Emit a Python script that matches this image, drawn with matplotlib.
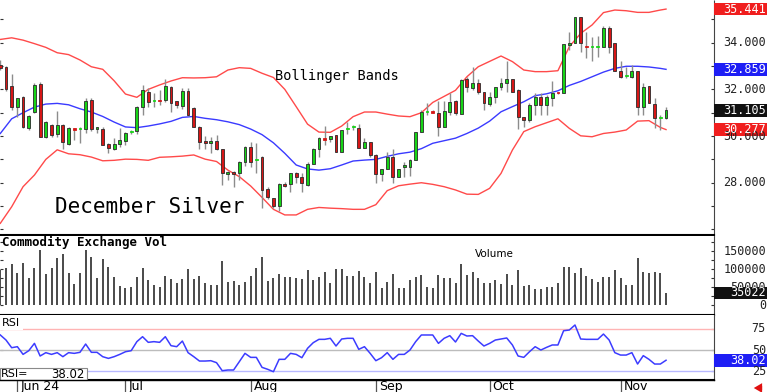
import numpy as np
import matplotlib.pyplot as plt
from matplotlib.patches import Rectangle

# figure size in pixels
W, H = 768, 392
MONO = "DejaVu Sans Mono"
SANS = "DejaVu Sans"

# =============================================================================
# DATA
# =============================================================================

opens = [33.04, 32.97, 32.14, 31.26, 31.66, 30.33, 31.04, 32.23, 29.94, 30.47,
         30.07, 30.49, 29.66, 30.32, 30.30, 30.29, 31.54, 30.29, 30.29, 29.66,
         29.44, 29.66, 29.80, 30.16, 30.23, 31.23, 31.89, 31.50, 31.56, 31.54,
         32.12, 31.50, 31.29, 31.93, 31.19, 30.40, 29.80, 29.72, 29.80, 29.43,
         28.37, 28.44, 28.40, 28.90, 29.54, 28.98, 29.09, 27.72, 27.33, 27.00,
         27.95, 27.93, 28.40, 28.23, 27.90, 28.80, 29.43, 29.90, 29.86, 30.04,
         29.33, 30.30, 30.37, 30.36, 29.50, 29.76, 29.19, 28.36, 28.57, 29.09,
         28.23, 28.66, 28.69, 28.97, 30.19, 31.04, 31.06, 31.00, 30.37, 31.04,
         31.50, 30.94, 32.43, 32.04, 32.29, 31.90, 31.37, 31.66, 32.09, 32.26,
         32.43, 31.97, 30.83, 30.69, 31.33, 31.69, 31.33, 31.61, 31.90, 31.83,
         33.90, 33.97, 35.09, 33.83, 33.80, 33.80, 33.83, 34.64, 33.97, 32.80,
         32.56, 32.54, 32.79, 31.26, 32.14, 31.37, 30.76, 30.76]

highs = [33.26, 33.00, 32.66, 31.62, 31.70, 30.90, 32.26, 32.33, 30.66, 30.52,
         31.07, 30.50, 30.37, 30.36, 30.40, 31.61, 31.61, 30.40, 30.40, 29.70,
         29.90, 30.33, 30.19, 30.26, 31.30, 32.19, 32.04, 31.83, 31.97, 32.43,
         32.14, 31.52, 32.04, 32.04, 31.23, 30.43, 30.00, 29.97, 30.04, 29.45,
         28.50, 28.50, 28.93, 29.57, 29.76, 29.70, 29.14, 27.83, 27.36, 28.00,
         28.04, 28.40, 28.44, 28.40, 28.90, 29.50, 29.97, 30.43, 30.00, 30.04,
         30.26, 30.60, 30.47, 30.50, 29.90, 29.76, 29.23, 28.57, 29.30, 29.43,
         28.60, 28.90, 29.00, 30.19, 31.10, 31.40, 31.10, 31.50, 31.50, 31.83,
         31.55, 32.45, 32.55, 32.97, 32.43, 31.90, 31.90, 32.09, 32.50, 33.20,
         32.43, 32.00, 30.83, 31.40, 31.83, 31.83, 31.76, 32.36, 31.90, 33.93,
         34.47, 35.09, 35.09, 34.47, 34.26, 34.29, 34.70, 34.70, 33.97, 33.20,
         32.97, 33.03, 32.79, 32.26, 32.14, 31.61, 30.90, 31.23]

lows = [32.83, 31.95, 31.12, 30.83, 30.33, 30.28, 31.00, 29.95, 29.90, 29.94,
        29.97, 29.43, 29.60, 29.83, 29.72, 30.14, 30.23, 30.12, 29.60, 29.29,
        29.40, 29.54, 29.60, 30.10, 30.10, 30.90, 31.26, 31.23, 31.33, 31.47,
        31.04, 31.19, 31.14, 30.87, 30.37, 29.43, 29.43, 29.26, 29.40, 27.90,
        28.10, 27.80, 28.10, 28.70, 28.69, 28.40, 26.90, 27.30, 26.90, 26.80,
        27.80, 27.60, 28.00, 27.60, 27.87, 28.80, 29.10, 29.60, 29.73, 29.33,
        29.33, 30.09, 30.26, 29.50, 29.50, 29.10, 28.00, 28.06, 28.57, 27.97,
        28.23, 28.26, 28.30, 28.97, 30.19, 30.90, 30.97, 30.00, 30.37, 30.90,
        30.90, 30.94, 31.90, 31.97, 31.80, 31.10, 31.30, 31.40, 31.97, 31.90,
        31.90, 30.30, 30.40, 30.60, 30.90, 30.90, 30.90, 31.29, 31.80, 31.83,
        33.69, 33.97, 33.60, 33.33, 33.23, 33.40, 33.83, 33.57, 32.80, 32.50,
        32.47, 32.47, 30.90, 30.90, 31.40, 30.33, 30.26, 30.72]

closes = [32.90, 32.00, 31.26, 31.61, 30.37, 30.86, 32.17, 29.97, 30.60, 30.04,
          30.46, 29.76, 30.33, 30.28, 30.36, 31.52, 30.29, 30.37, 29.62, 29.47,
          29.66, 29.83, 30.14, 30.22, 31.23, 31.97, 31.47, 31.55, 31.52, 32.14,
          31.43, 31.33, 31.93, 30.90, 30.40, 29.76, 29.72, 29.80, 29.43, 28.40,
          28.44, 28.37, 28.90, 29.54, 28.90, 29.02, 27.69, 27.40, 27.00, 27.94,
          27.86, 28.40, 28.26, 27.97, 28.80, 29.43, 29.90, 29.85, 30.00, 29.33,
          30.26, 30.36, 30.37, 29.50, 29.76, 29.19, 28.36, 28.57, 29.11, 28.23,
          28.60, 28.74, 28.97, 30.19, 31.04, 31.06, 31.00, 30.40, 31.07, 31.47,
          30.97, 32.40, 32.09, 32.29, 31.90, 31.40, 31.69, 32.09, 32.26, 32.43,
          31.90, 30.83, 30.69, 31.33, 31.69, 31.33, 31.66, 31.86, 31.85, 33.93,
          34.00, 35.09, 34.00, 33.80, 33.83, 33.83, 34.64, 33.83, 32.80, 32.54,
          32.60, 32.79, 31.26, 32.09, 31.40, 30.76, 30.80, 31.105]

volume = [98000, 103200, 115300, 91200, 118000, 75500, 103200, 154200, 86600, 103200,
          132900, 142100, 90300, 59700, 90300, 154200, 133800, 77300, 129200, 106900,
          78200, 54200, 47700, 52300, 78200, 104200, 70800, 56900, 52300, 81900,
          73600, 61600, 73600, 100500, 73600, 81900, 63400, 56900, 56900, 123600,
          64400, 68100, 56900, 66200, 81900, 105100, 134700, 68100, 77300, 86600,
          80100, 80100, 75500, 74500, 99500, 70800, 78200, 92100, 63400, 102300,
          101400, 82900, 82900, 95800, 78200, 61600, 92100, 49500, 64400, 86600,
          49500, 49500, 70800, 80100, 84700, 52300, 49500, 84700, 77300, 75500,
          61600, 114400, 84700, 92100, 75500, 61600, 63400, 69900, 58800, 86600,
          56900, 98600, 55100, 56900, 45800, 45800, 52300, 52300, 61600, 106000,
          106000, 89400, 103200, 82900, 72700, 66200, 78200, 78200, 99500, 75500,
          56900, 56900, 132900, 94000, 91200, 92100, 91200, 35022]

rsi = [67.6, 61.7, 52.7, 53.9, 44.9, 49.2, 57.8, 43.0, 46.9, 44.9,
       46.9, 42.2, 46.9, 46.1, 47.3, 57.0, 47.3, 47.3, 42.2, 40.2,
       42.2, 44.9, 48.0, 49.2, 59.8, 65.6, 59.0, 59.8, 59.0, 65.6,
       55.1, 53.9, 60.5, 46.9, 42.2, 37.1, 37.1, 37.5, 35.2, 25.8,
       26.6, 26.6, 36.3, 46.1, 41.4, 41.4, 29.7, 27.4, 24.6, 39.1,
       39.1, 46.1, 44.9, 41.0, 52.0, 58.6, 62.5, 62.5, 63.7, 54.7,
       62.9, 63.7, 63.7, 50.8, 53.9, 46.1, 37.5, 41.0, 46.9, 39.1,
       44.9, 44.9, 50.0, 59.8, 67.6, 67.6, 67.6, 57.8, 63.7, 66.8,
       59.4, 69.5, 66.4, 66.8, 60.5, 54.7, 57.8, 61.7, 62.9, 64.1,
       55.9, 43.0, 41.4, 48.0, 53.9, 50.0, 53.1, 55.9, 55.9, 72.6,
       73.4, 79.3, 62.9, 62.5, 62.5, 62.5, 68.7, 61.7, 46.9, 44.1,
       44.1, 46.9, 33.6, 43.4, 39.1, 33.6, 33.6, 38.02]

# Bollinger bands, read at every 2nd session (plus the last one)
band_idx = list(range(0, 117, 2)) + [117]
band_up = [34.14, 34.21, 34.11, 33.96, 33.80, 33.57, 33.49, 33.26, 32.97, 32.86,
           32.37, 31.80, 31.66, 32.00, 32.19, 32.36, 32.50, 32.49, 32.50, 32.54,
           32.83, 32.93, 32.90, 32.69, 32.51, 32.00, 31.26, 30.51, 30.17, 30.16,
           30.43, 30.83, 31.03, 31.03, 30.94, 30.86, 30.83, 31.00, 31.44, 31.70,
           31.96, 32.54, 32.97, 33.20, 33.43, 33.19, 32.83, 32.76, 32.76, 32.80,
           33.83, 34.40, 34.76, 35.29, 35.40, 35.37, 35.30, 35.30, 35.40, 35.441]
band_mid = [30.11, 30.74, 31.00, 31.24, 31.37, 31.40, 31.34, 31.17, 31.03, 30.84,
            30.60, 30.39, 30.36, 30.43, 30.52, 30.63, 30.80, 30.84, 30.76, 30.70,
            30.61, 30.49, 30.30, 30.06, 29.71, 29.26, 28.76, 28.59, 28.54, 28.60,
            28.76, 28.93, 28.97, 29.00, 29.13, 29.24, 29.31, 29.46, 29.69, 29.80,
            29.91, 30.11, 30.34, 30.64, 31.04, 31.26, 31.47, 31.73, 31.81, 31.94,
            32.17, 32.34, 32.54, 32.74, 32.90, 32.99, 32.99, 32.96, 32.90, 32.859]
band_low = [26.26, 26.97, 27.83, 28.33, 29.00, 29.41, 29.24, 29.20, 29.10, 28.94,
            28.96, 29.01, 29.00, 28.96, 29.09, 29.11, 29.14, 29.19, 29.01, 28.91,
            28.54, 28.26, 27.86, 27.37, 26.86, 26.62, 26.62, 26.86, 26.94, 26.91,
            26.89, 26.86, 26.86, 27.06, 27.66, 27.87, 27.94, 28.00, 27.93, 27.83,
            27.69, 27.51, 27.50, 27.76, 28.40, 29.40, 30.19, 30.40, 30.57, 30.74,
            30.33, 30.01, 29.97, 30.11, 30.17, 30.26, 30.64, 30.66, 30.37, 30.277]

price_ticks = [28, 30, 32, 34]
vol_ticks = [0, 50000, 100000, 150000]
rsi_ticks = [25, 50, 75]

month_idx = [3, 22, 44, 66, 86, 109]
month_labels = ["Jun 24", "Jul", "Aug", "Sep", "Oct", "Nov"]

# =============================================================================
# LAYOUT
# =============================================================================

def rect(l, t, r, b):
    return [l / W, 1 - b / H, (r - l) / W, (b - t) / H]

fig = plt.figure(figsize=(W / 100, H / 100), dpi=100)
fig.patch.set_facecolor("white")

ax_p = fig.add_axes(rect(0, 0, 714, 235))
ax_v = fig.add_axes(rect(0, 236, 714, 315))
ax_r = fig.add_axes(rect(0, 315, 714, 380))
ax_d = fig.add_axes(rect(0, 380, 714, 392))

n = len(closes)
idx = np.arange(n)

for ax in (ax_p, ax_v, ax_r, ax_d):
    ax.set_xlim(-0.053, 125.43)
    ax.set_xticks([])
    for s in ax.spines.values():
        s.set_visible(False)

for ax in (ax_p, ax_v, ax_r):
    ax.spines["right"].set_visible(True)
    ax.spines["right"].set_linestyle((0, (1, 1)))
    ax.spines["right"].set_color("#444444")
    ax.spines["bottom"].set_visible(True)
    ax.spines["bottom"].set_linewidth(1.5)
    ax.spines["bottom"].set_color("black")
    ax.tick_params(axis="y", which="both", left=True, right=True,
                   labelleft=False, labelright=False, direction="in",
                   length=2.5, width=0.8, color="#333333")

ax_d.set_ylim(0, 1)
ax_d.set_yticks([])

# =============================================================================
# PRICE PANEL
# =============================================================================

o = np.array(opens)
c = np.array(closes)
up = c >= o
body_lo = np.minimum(o, c)
body_h = np.maximum(np.abs(c - o), 0.045)
face = np.where(up, "#16d416", "#d61616")
edge = np.where(np.abs(c - o) > 0.06, "#2a2a2a", face)

ax_p.plot(band_idx, band_up, color="#ff4a4a", lw=1.0, zorder=1.5)
ax_p.plot(band_idx, band_low, color="#ff4a4a", lw=1.0, zorder=1.5)
ax_p.plot(band_idx, band_mid, color="#3a3aff", lw=1.0, zorder=1.5)

ax_p.vlines(idx, lows, highs, color="#8c8c8c", lw=1.0, zorder=2)
ax_p.bar(idx, body_h, bottom=body_lo, width=0.5, color=face,
         edgecolor=edge, linewidth=0.6, zorder=3)

ax_p.set_ylim(25.76, 35.83)
ax_p.set_yticks(np.arange(26, 36))

ax_p.text(9.6, 26.70, "December Silver", fontsize=15, family=MONO,
          color="black", zorder=5)
ax_p.text(48.2, 32.40, "Bollinger Bands", fontsize=9.8, family=MONO,
          color="black", zorder=5)

# =============================================================================
# VOLUME PANEL
# =============================================================================

ax_v.vlines(idx, 0, volume, color="#3c3c3c", lw=1.3)
ax_v.set_ylim(-26400, 193000)
ax_v.set_yticks(np.arange(0, 175001, 25000))
ax_v.text(0.003, 0.995, "Commodity Exchange Vol", transform=ax_v.transAxes,
          fontsize=9, family=MONO, fontweight="bold", va="top", ha="left")
ax_v.text(86.9, 0.77, "Volume", transform=ax_v.get_xaxis_transform(),
          fontsize=7.5, family=SANS, ha="center", va="center")

# =============================================================================
# RSI PANEL
# =============================================================================

ax_r.axhline(75, color="#ffb4b4", lw=1.0)
ax_r.axhline(50, color="#bcbcbc", lw=1.0)
ax_r.axhline(25, color="#b8b8ff", lw=1.0)
ax_r.plot(idx, rsi, color="#3c3cff", lw=1.1)
ax_r.set_ylim(14.9, 91)
ax_r.set_yticks(rsi_ticks)

# =============================================================================
# RIGHT-HAND SCALE LABELS
# =============================================================================

def px_per_unit(ax):
    y0, y1 = ax.get_ylim()
    return ax.bbox.height / (y1 - y0)

def right_label(ax, val, s, fc=None, tc="#222222"):
    tr = ax.get_yaxis_transform()
    if fc is not None:
        hh = 6.3 / px_per_unit(ax)
        ax.add_patch(Rectangle((1.0, val - hh), 53 / 714, 2 * hh, transform=tr,
                               facecolor=fc, edgecolor="none", clip_on=False, zorder=6))
        tc = "white"
    ax.text(1 + 52 / 714, val, s, transform=tr, ha="right", va="center",
            fontsize=8.5, family=MONO, color=tc, clip_on=False, zorder=7)

for t in price_ticks:
    right_label(ax_p, t, f"{t:.3f}")
right_label(ax_p, band_up[-1], f"{band_up[-1]:.3f}", fc="#f01e1e")
right_label(ax_p, band_mid[-1], f"{band_mid[-1]:.3f}", fc="#1e1ef5")
right_label(ax_p, closes[-1], f"{closes[-1]:.3f}", fc="#111111")
right_label(ax_p, band_low[-1], f"{band_low[-1]:.3f}", fc="#f01e1e")

for t in vol_ticks:
    right_label(ax_v, t, f"{t}")
right_label(ax_v, volume[-1], f"{volume[-1]}", fc="#111111")

for t in rsi_ticks:
    right_label(ax_r, t, f"{t}")
right_label(ax_r, rsi[-1], f"{rsi[-1]:.2f}", fc="#1e1ef5")

# RSI captions
fig.add_artist(Rectangle((0, 1 - 330 / H), 23 / W, 14 / H, transform=fig.transFigure,
                         facecolor="white", edgecolor="none", zorder=2))
fig.text(2 / W, 1 - 323 / H, "RSI", fontsize=8, family=SANS, va="center", zorder=3)
fig.add_artist(Rectangle((0, 1 - 380 / H), 87 / W, 12 / H, transform=fig.transFigure,
                         facecolor="white", edgecolor="#8a8a8a", lw=0.8, zorder=2))
fig.text(1 / W, 1 - 374 / H, "RSI=", fontsize=8, family=SANS, va="center", zorder=3)
fig.text(85 / W, 1 - 374 / H, f"{rsi[-1]:.2f}", fontsize=8.5, family=SANS,
         va="center", ha="right", zorder=3)

# =============================================================================
# DATE STRIP
# =============================================================================

ax_d.vlines(month_idx, 0, 1, color="#555555", lw=0.9)
for m, lab in zip(month_idx, month_labels):
    ax_d.text(m + 0.5, 0.45, lab, fontsize=9, family=SANS, va="center", ha="left")

fig.add_artist(plt.Line2D([0, 714 / W], [1 - 380 / H] * 2, transform=fig.transFigure,
                          color="black", lw=1.0))

# red arrow, bottom right
plt.annotate("", xy=(751 / W, 1 - 388 / H), xytext=(765 / W, 1 - 388 / H),
             xycoords="figure fraction", textcoords="figure fraction",
             arrowprops=dict(arrowstyle="simple,head_width=0.7,head_length=0.6,tail_width=0.3",
                             color="#e01010", lw=0))

fig.savefig("out.png", dpi=100)
